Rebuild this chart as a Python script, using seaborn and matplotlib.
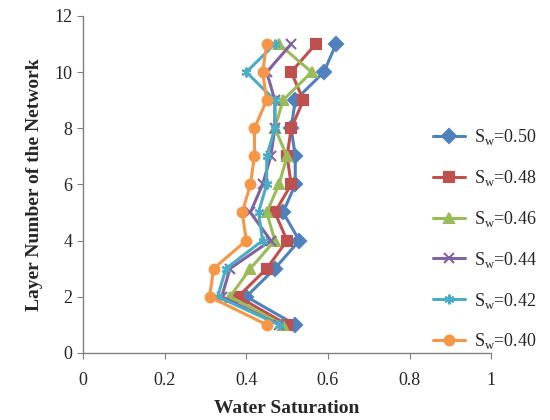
import pandas as pd
import seaborn as sns
import matplotlib.pyplot as plt

# Layer numbers (y axis) and water saturation per layer for each case (x axis)
layers = [1, 2, 3, 4, 5, 6, 7, 8, 9, 10, 11]
sw_050 = [0.52, 0.40, 0.47, 0.53, 0.49, 0.52, 0.52, 0.51, 0.52, 0.59, 0.62]
sw_048 = [0.50, 0.38, 0.45, 0.50, 0.47, 0.51, 0.50, 0.51, 0.54, 0.51, 0.57]
sw_046 = [0.49, 0.36, 0.41, 0.47, 0.45, 0.48, 0.50, 0.47, 0.49, 0.56, 0.48]
sw_044 = [0.48, 0.34, 0.36, 0.46, 0.41, 0.44, 0.46, 0.47, 0.47, 0.45, 0.51]
sw_042 = [0.48, 0.33, 0.35, 0.44, 0.43, 0.45, 0.45, 0.47, 0.47, 0.40, 0.47]
sw_040 = [0.45, 0.31, 0.32, 0.40, 0.39, 0.41, 0.42, 0.42, 0.45, 0.44, 0.45]

labels = ['S$_\\mathrm{w}$=0.50', 'S$_\\mathrm{w}$=0.48', 'S$_\\mathrm{w}$=0.46',
          'S$_\\mathrm{w}$=0.44', 'S$_\\mathrm{w}$=0.42', 'S$_\\mathrm{w}$=0.40']
series = [sw_050, sw_048, sw_046, sw_044, sw_042, sw_040]
colors = ['#4F81BD', '#C0504D', '#9BBB59', '#8064A2', '#4BACC6', '#F79646']
markers = ['D', 's', '^', 'x', (6, 2, 0), 'o']

rows = []
for lab, vals in zip(labels, series):
    for layer, v in zip(layers, vals):
        rows.append([lab, layer, v])
df = pd.DataFrame(rows, columns=['CASE', 'LAYER', 'SW'])

sns.set_style('white')
plt.rcParams['font.family'] = ['Liberation Serif', 'DejaVu Serif']
plt.rcParams['mathtext.fontset'] = 'custom'
plt.rcParams['mathtext.rm'] = 'Liberation Serif'

fig = plt.figure(figsize=(5.5, 4.2), dpi=100)
ax = fig.add_axes([0.151, 0.160, 0.742, 0.802])

for lab, c, m in zip(labels, colors, markers):
    sub = df[df['CASE'] == lab]
    sns.lineplot(data=sub, x='SW', y='LAYER', color=c, marker=m, mec=c, mfc=c,
                 sort=False, orient='y', estimator=None,
                 linewidth=2.2, markersize=7, markeredgewidth=1.5, ax=ax)

ax.set_xlim(0, 1)
ax.set_ylim(0, 12)
ax.set_xticks([0, 0.2, 0.4, 0.6, 0.8, 1.0], labels=['0', '0.2', '0.4', '0.6', '0.8', '1'])
ax.set_yticks(range(0, 13, 2))
ax.tick_params(axis='both', labelsize=13, direction='out', length=4, color='#808080',
               left=True, bottom=True)
ax.tick_params(axis='x', pad=10)
for side in ['top', 'right']:
    ax.spines[side].set_visible(False)
for side in ['left', 'bottom']:
    ax.spines[side].set_color('#808080')
    ax.spines[side].set_linewidth(1.0)

ax.set_xlabel('Water Saturation', fontsize=14, fontweight='bold', labelpad=8)
ax.set_ylabel('Layer Number of the Network', fontsize=14, fontweight='bold', labelpad=8)

handles = [plt.Line2D([], [], color=c, marker=m, linewidth=2.2, markersize=7,
                      markeredgewidth=1.5) for c, m in zip(colors, markers)]
fig.legend(handles, labels, loc='center left', bbox_to_anchor=(0.757, 0.43),
           frameon=False, fontsize=13, labelspacing=1.15, handlelength=1.8,
           handletextpad=0.5)

fig.savefig('out.png', dpi=100)
